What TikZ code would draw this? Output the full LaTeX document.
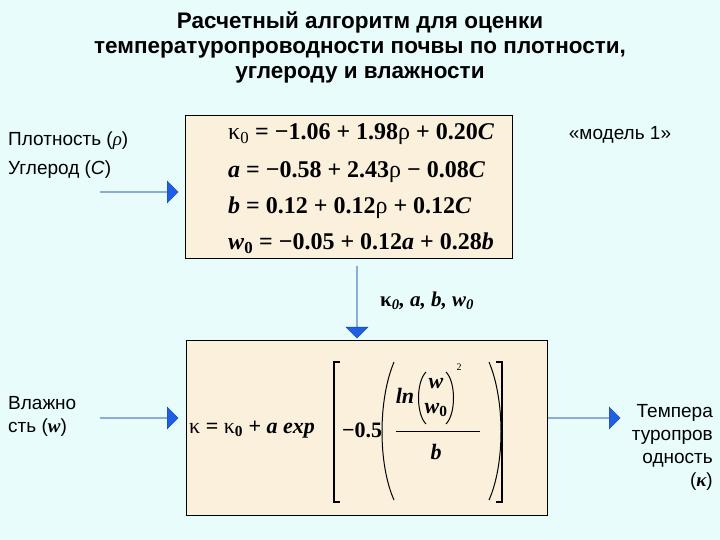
\documentclass[tikz,border=0pt]{standalone}
\usepackage{fontspec}
\setmainfont{Liberation Sans}
\newfontfamily\tms{Liberation Serif}
\usetikzlibrary{shapes.arrows}
\definecolor{bgc}{RGB}{232,252,252}
\definecolor{boxc}{RGB}{250,240,220}
\definecolor{arr}{RGB}{30,95,230}
\tikzset{
 framebox/.style={draw=black,fill=boxc,line width=0.8pt},
 barrow/.style={single arrow,fill=arr,draw=arr!70!black,line width=0.4pt,single arrow head extend=9pt,minimum height=78pt,minimum width=22pt,inner sep=0pt,anchor=west},
 lbl/.style={font=\fontsize{19}{23}\selectfont,inner sep=0pt},
 eq/.style={font=\tms\bfseries\fontsize{24}{28}\selectfont,anchor=west,inner sep=0pt},
 fq/.style={font=\tms\bfseries\fontsize{22}{26}\selectfont,inner sep=0pt},
 brk/.style={line width=1.6pt},
 par/.style={line width=1pt}
}
\begin{document}
\begin{tikzpicture}[x=1pt,y=-1pt]
\useasboundingbox[fill=bgc] (0,0) rectangle (720,540);
\node[font=\bfseries\fontsize{22.5}{25}\selectfont,align=center,inner sep=0pt] (title) at (360,47) {Расчетный алгоритм для оценки\\температуропроводности почвы по плотности,\\углероду и влажности};
\draw[framebox] (185,115) rectangle (512,258);
\node[eq] (e1) at (228,134) {{\mdseries κ\textsubscript{0}} = −1.06 + 1.98{\mdseries ρ} + 0.20\textit{C}};
\node[eq] (e2) at (228,172) {\textit{a} = −0.58 + 2.43{\mdseries ρ} − 0.08\textit{C}};
\node[eq] (e3) at (228,208) {\textit{b} = 0.12 + 0.12{\mdseries ρ} + 0.12\textit{C}};
\node[eq] (e4) at (228,243) {\textit{w}\textsubscript{0} = −0.05 + 0.12\textit{a} + 0.28\textit{b}};
\draw[framebox] (186,340) rectangle (547,515);
\node[fq,anchor=west] (f1) at (189,430) {{\mdseries κ} = {\mdseries κ}\textsubscript{0} + \textit{a exp}};
\draw[brk] (340,362) -- (334,362) -- (334,502) -- (340,502);
\draw[brk] (496,362) -- (502,362) -- (502,502) -- (496,502);
\node[fq,anchor=west] (f2) at (342,430) {−0.5};
\draw[par] (394,362) .. controls (378,400) and (378,464) .. (394,500);
\draw[par] (489,362) .. controls (505,400) and (505,464) .. (489,500);
\node[fq] (ln) at (405,396) {\textit{ln}};
\draw[par] (426,372) .. controls (416,382) and (416,414) .. (426,424);
\draw[par] (446,372) .. controls (456,382) and (456,414) .. (446,424);
\node[fq] (w1) at (436,384) {\textit{w}};
\node[fq] (w2) at (436,410) {\textit{w}\textsubscript{0}};
\node[fq,font=\tms\fontsize{10}{12}\selectfont] (sq) at (459,367) {2};
\draw[line width=0.6pt] (396,431) -- (480,431);
\node[fq] (bb) at (436,452) {\textit{b}};
\node[lbl,anchor=west] (p) at (8,141) {Плотность ({\tms\itshape ρ})};
\node[lbl,anchor=west] (c) at (8,170) {Углерод (\textit{С})};
\node[lbl,anchor=west,align=left] (w) at (8,416) {Влажно\\сть ({\tms\bfseries\itshape w})};
\node[lbl] (m) at (620,135) {«модель 1»};
\node[lbl,anchor=east,align=right] (t) at (713,447) {Темпера\\туропров\\одность\\({\tms\bfseries\itshape κ})};
\node[barrow] (a1) at (100,192) {};
\node[barrow] (a2) at (100,418) {};
\node[barrow,minimum height=72pt] (a3) at (548,418) {};
\node[barrow,rotate=-90,minimum height=72pt,anchor=west] (a4) at (357,266) {};
\node[font=\tms\bfseries\itshape\fontsize{21}{24}\selectfont,anchor=west,inner sep=0pt] (k) at (380,301) {{\upshape κ}\textsubscript{0}, a, b, w\textsubscript{0}};
\end{tikzpicture}
\end{document}
